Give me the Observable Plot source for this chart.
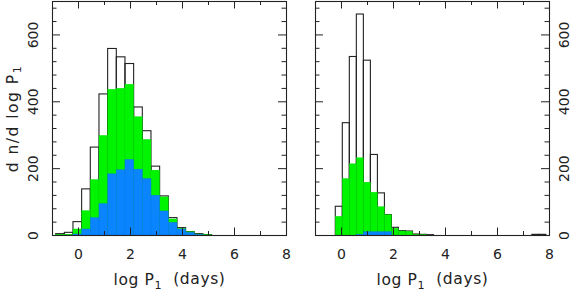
<!DOCTYPE html>
<html><head><meta charset="utf-8">
<script src="https://cdn.jsdelivr.net/npm/d3@7"></script>
<script src="https://cdn.jsdelivr.net/npm/@observablehq/plot@0.6"></script>
<style>
body{margin:0;background:#fff;}
#wrap{position:relative;width:572px;height:298px;overflow:hidden;background:#fff;}
#wrap svg{position:absolute;top:0;}
</style></head><body><div id="wrap"></div>
<script>
// ---- data ----
const leftBinStart = -0.86, leftBinWidth = 1/3;
const leftTotal = [4, 8, 40, 138, 263, 422, 558, 533, 513, 383, 312, 206, 117, 52, 22, 10, 4, 1];
const leftGreen = [2, 2, 18, 73, 166, 298, 436, 439, 451, 354, 286, 194, 114, 48, 20, 10, 3, 1];
const leftBlue  = [0, 0, 3, 18, 52, 94, 183, 195, 226, 197, 169, 119, 72, 38, 18, 8, 2, 0];

const rightBinStart = -0.22, rightBinWidth = 0.27;
const rightTotal = [86, 336, 534, 661, 523, 241, 126, 61, 23, 13, 12, 3, 2, 1, 0, 0, 0, 0, 0, 0, 0, 0, 0, 0, 0, 0, 0, 0, 2, 2];
const rightGreen = [56, 169, 213, 231, 158, 128, 85, 61, 20, 12, 11, 2, 1, 0, 0, 0, 0, 0, 0, 0, 0, 0, 0, 0, 0, 0, 0, 0, 0, 0];
const rightBlue  = [0, 0, 0, 2, 10, 10, 10, 10, 0, 0, 0, 0, 0, 0, 0, 0, 0, 0, 0, 0, 0, 0, 0, 0, 0, 0, 0, 0, 0, 0];

const xDomain = [-1, 8];
const yDomain = [0, 700];
const xMajorTicks = [0, 2, 4, 6];
const xMinorTicks = [1, 3, 5, 7];
const xTickLabels = [0, 2, 4, 6, 8];
const yMajorTicks = [200, 400, 600];
const yMinorTicks = [40, 80, 120, 160, 240, 280, 320, 360, 440, 480, 520, 560, 640, 680];
const yTickLabels = [0, 200, 400, 600];
const xTitle = "log P|1|  (days)";
const yTitle = "d n/d log P|1|";

// ---- styles ----
const GREEN = "#00f400", BLUE = "#0a84ff", INK = "#222";
const PW = 234, PH = 234;

function bins(start, w, vals) {
  return vals.map((v, i) => ({x1: start + i * w, x2: start + (i + 1) * w, v}));
}

function panel({start, w, total, green, blue, side, left, marginLeft, marginRight}) {
  const T = bins(start, w, total).filter(d => d.v > 0);
  const G = bins(start, w, green).filter(d => d.v > 0);
  const B = bins(start, w, blue).filter(d => d.v > 0);
  const marks = [
    Plot.rectY(T, {x1: "x1", x2: "x2", y: "v", fill: "none", stroke: INK, strokeWidth: 1.1}),
    Plot.rectY(G, {x1: "x1", x2: "x2", y: "v", fill: GREEN, stroke: "#00d800", strokeWidth: 0.35}),
    Plot.rectY(B, {x1: "x1", x2: "x2", y: "v", fill: BLUE, stroke: "#0a74e0", strokeWidth: 0.35}),
    // ticks on all four sides, pointing inward
    Plot.tickX(xMajorTicks, {x: d => d, insetTop: PH - 7.5, stroke: INK}),
    Plot.tickX(xMinorTicks, {x: d => d, insetTop: PH - 4, stroke: INK}),
    Plot.tickX(xMajorTicks, {x: d => d, insetBottom: PH - 7.5, stroke: INK}),
    Plot.tickX(xMinorTicks, {x: d => d, insetBottom: PH - 4, stroke: INK}),
    Plot.tickY(yMajorTicks, {y: d => d, insetRight: PW - 8, stroke: INK}),
    Plot.tickY(yMinorTicks, {y: d => d, insetRight: PW - 4.5, stroke: INK}),
    Plot.tickY(yMajorTicks, {y: d => d, insetLeft: PW - 8, stroke: INK}),
    Plot.tickY(yMinorTicks, {y: d => d, insetLeft: PW - 4.5, stroke: INK}),
    Plot.frame({stroke: INK, strokeWidth: 1.1}),
    Plot.text(xTickLabels, {x: d => d, frameAnchor: "bottom", dy: 19, text: d => String(d), fill: INK, fontSize: 14, lineAnchor: "middle"}),
    Plot.text(yTickLabels, {y: d => d, frameAnchor: side, dx: side === "left" ? -19 : 15, rotate: -90, text: d => String(d), fill: INK, fontSize: 14, lineAnchor: "middle", textAnchor: "middle"}),
    Plot.text([xTitle], {frameAnchor: "bottom", dy: 45, text: d => d, fill: INK, fontSize: 15.5, lineAnchor: "middle"})
  ];
  if (side === "left") {
    marks.push(Plot.text([yTitle], {frameAnchor: "left", dx: -39.5, dy: 0, rotate: -90, text: d => d, fill: INK, fontSize: 15.5, lineAnchor: "middle", textAnchor: "middle"}));
  }
  const svg = Plot.plot({
    width: 300, height: 298,
    marginLeft, marginRight, marginTop: 1, marginBottom: 63,
    x: {domain: xDomain, axis: null},
    y: {domain: yDomain, axis: null},
    style: {fontFamily: "DejaVu Sans", fontSize: "14px", color: INK, background: "transparent", overflow: "visible"},
    marks
  });
  svg.style.left = left + "px";
  // subscripts: text between | | becomes a lowered smaller tspan
  d3.select(svg).selectAll("text").each(function () {
    const s = this.textContent;
    if (!s.includes("|")) return;
    const parts = s.split("|");
    const el = d3.select(this);
    el.text(null);
    el.attr("letter-spacing", s.startsWith("d n") ? "1.5px" : "0.6px");
    el.append("tspan").text(parts[0]);
    el.append("tspan").attr("dy", "0.3em").attr("font-size", "0.72em").text(parts[1]);
    el.append("tspan").attr("dy", "-0.3em").text(parts[2]);
  });
  return svg;
}

const wrap = document.getElementById("wrap");
wrap.appendChild(panel({start: leftBinStart, w: leftBinWidth, total: leftTotal, green: leftGreen, blue: leftBlue, side: "left", left: 0, marginLeft: 52, marginRight: 14}));
wrap.appendChild(panel({start: rightBinStart, w: rightBinWidth, total: rightTotal, green: rightGreen, blue: rightBlue, side: "right", left: 272, marginLeft: 43, marginRight: 23}));
</script></body></html>
